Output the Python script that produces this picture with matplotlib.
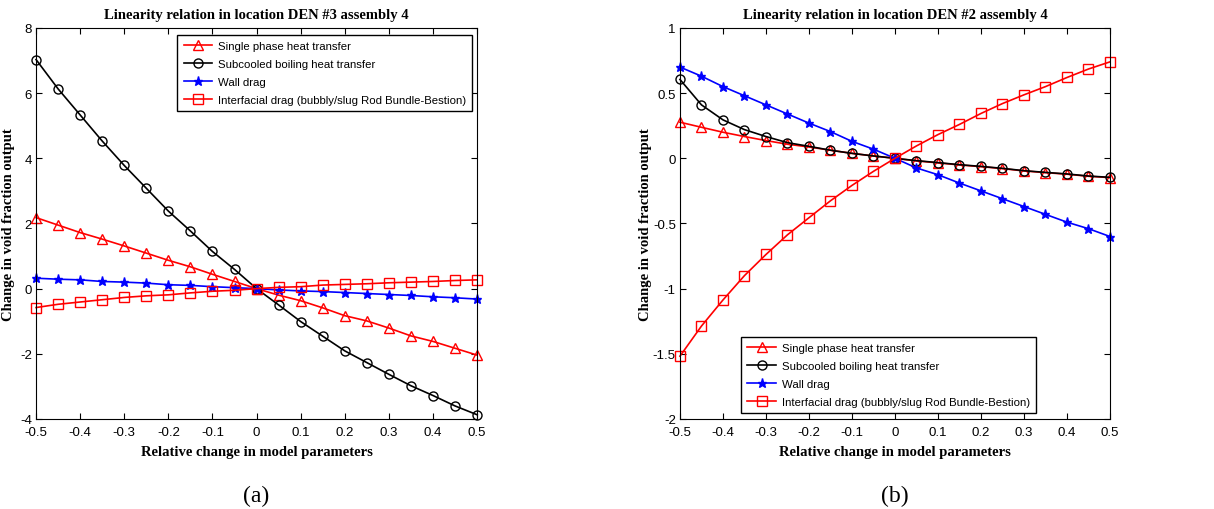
import matplotlib.pyplot as plt

x = [-0.5, -0.45, -0.4, -0.35, -0.3, -0.25, -0.2, -0.15, -0.1, -0.05, 0,
     0.05, 0.1, 0.15, 0.2, 0.25, 0.3, 0.35, 0.4, 0.45, 0.5]

labels = ["Single phase heat transfer",
          "Subcooled boiling heat transfer",
          "Wall drag",
          "Interfacial drag (bubbly/slug Rod Bundle-Bestion)"]

# (a) DEN #3 assembly 4
a_single = [2.18, 1.95, 1.72, 1.52, 1.31, 1.09, 0.87, 0.67, 0.44, 0.22, 0,
            -0.20, -0.37, -0.59, -0.83, -0.99, -1.21, -1.45, -1.62, -1.83, -2.04]
a_subcooled = [7.03, 6.13, 5.33, 4.53, 3.78, 3.08, 2.38, 1.77, 1.14, 0.59, 0,
               -0.50, -1.01, -1.46, -1.91, -2.27, -2.63, -2.98, -3.28, -3.60, -3.87]
a_wall = [0.32, 0.29, 0.27, 0.22, 0.20, 0.17, 0.12, 0.10, 0.06, 0.03, 0,
          -0.04, -0.07, -0.09, -0.12, -0.15, -0.18, -0.21, -0.25, -0.28, -0.32]
a_interfacial = [-0.58, -0.48, -0.41, -0.34, -0.27, -0.22, -0.19, -0.13, -0.08, -0.05, 0,
                 0.04, 0.06, 0.11, 0.13, 0.15, 0.18, 0.20, 0.22, 0.25, 0.27]

# (b) DEN #2 assembly 4
b_single = [0.277, 0.238, 0.200, 0.167, 0.136, 0.108, 0.087, 0.062, 0.038, 0.018, 0,
            -0.020, -0.035, -0.051, -0.064, -0.079, -0.097, -0.110, -0.122, -0.138, -0.148]
b_subcooled = [0.605, 0.41, 0.295, 0.22, 0.167, 0.12, 0.092, 0.062, 0.038, 0.018, 0,
               -0.018, -0.033, -0.049, -0.062, -0.077, -0.095, -0.108, -0.12, -0.136, -0.146]
b_wall = [0.70, 0.63, 0.55, 0.48, 0.41, 0.34, 0.27, 0.205, 0.13, 0.07, 0,
          -0.074, -0.126, -0.19, -0.25, -0.31, -0.37, -0.43, -0.49, -0.54, -0.60]
b_interfacial = [-1.518, -1.287, -1.087, -0.90, -0.738, -0.587, -0.456, -0.326, -0.208, -0.10, 0,
                 0.095, 0.182, 0.26, 0.344, 0.42, 0.487, 0.55, 0.62, 0.685, 0.74]

serif = "Liberation Serif"
sans = "Liberation Sans"

fig = plt.figure(figsize=(12.14, 5.10), dpi=100)
ax1 = fig.add_axes([0.0297, 0.1765, 0.3633, 0.7667])
ax2 = fig.add_axes([0.5601, 0.1765, 0.3542, 0.7667])


def draw(ax, single, subcooled, wall, interfacial, title, ylim, yticks,
         legend_loc, legend_anchor, ylab_x):
    ax.plot(x, single, color="red", marker="^", mfc="none", ms=7.5, lw=1.2,
            clip_on=False, label=labels[0])
    ax.plot(x, subcooled, color="black", marker="o", mfc="none", ms=6.5, lw=1.2,
            clip_on=False, label=labels[1])
    ax.plot(x, wall, color="blue", marker="*", ms=6.5, lw=1.2,
            clip_on=False, label=labels[2])
    ax.plot(x, interfacial, color="red", marker="s", mfc="none", ms=6.5, lw=1.2,
            clip_on=False, label=labels[3])
    ax.set_xlim(-0.5, 0.5)
    ax.set_ylim(*ylim)
    ax.set_xticks([-0.5, -0.4, -0.3, -0.2, -0.1, 0, 0.1, 0.2, 0.3, 0.4, 0.5])
    ax.set_xticklabels(["-0.5", "-0.4", "-0.3", "-0.2", "-0.1", "0",
                        "0.1", "0.2", "0.3", "0.4", "0.5"])
    ax.set_yticks(yticks)
    ax.set_yticklabels(["%g" % v for v in yticks])
    ax.tick_params(direction="in", top=True, right=True, length=4, width=0.8,
                   labelsize=9.5)
    ax.tick_params(axis="x", pad=5)
    ax.tick_params(axis="y", pad=3)
    for t in ax.get_xticklabels() + ax.get_yticklabels():
        t.set_fontfamily(sans)
    ax.set_title(title, fontfamily=serif, fontweight="bold", fontsize=10.5, pad=7)
    ax.set_xlabel("Relative change in model parameters", fontfamily=serif,
                  fontweight="bold", fontsize=10.5, labelpad=5)
    ax.set_ylabel("Change in void fraction output", fontfamily=serif,
                  fontweight="bold", fontsize=10.5)
    ax.yaxis.set_label_coords(ylab_x, 0.5)
    leg = ax.legend(loc=legend_loc, bbox_to_anchor=legend_anchor, borderaxespad=0,
                    fancybox=False, framealpha=1, edgecolor="black",
                    prop={"family": sans, "size": 8.2}, handlelength=2.5,
                    borderpad=0.55, labelspacing=0.7, handletextpad=0.5)
    leg.get_frame().set_linewidth(1)


draw(ax1, a_single, a_subcooled, a_wall, a_interfacial,
     "Linearity relation in location DEN #3 assembly 4", (-4, 8), [-4, -2, 0, 2, 4, 6, 8],
     "upper right", (0.989, 0.982), -0.048)
draw(ax2, b_single, b_subcooled, b_wall, b_interfacial,
     "Linearity relation in location DEN #2 assembly 4", (-2, 1),
     [-2, -1.5, -1, -0.5, 0, 0.5, 1], "lower right", (0.828, 0.015), -0.066)

fig.text(0.2113, 0.015, "(a)", fontfamily=serif, fontsize=17, ha="center")
fig.text(0.7372, 0.015, "(b)", fontfamily=serif, fontsize=17, ha="center")

fig.savefig("out.png", dpi=100)
